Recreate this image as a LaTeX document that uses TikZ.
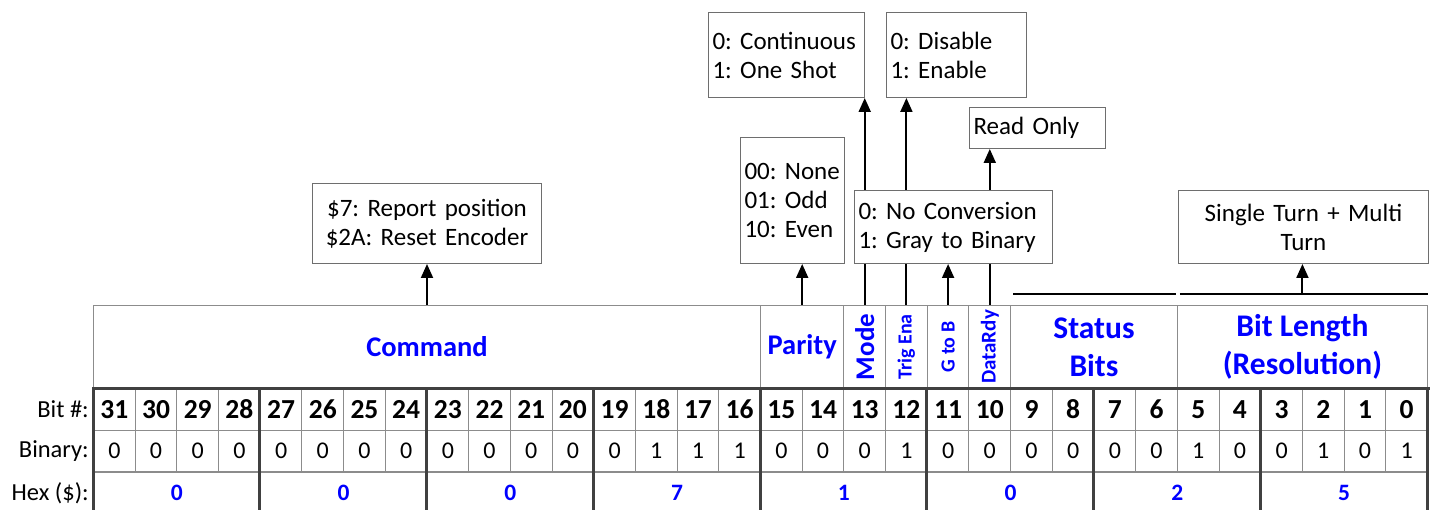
\documentclass[tikz,border=0pt]{standalone}
\usepackage{fontspec}
\setmainfont{Carlito}
\usetikzlibrary{arrows.meta}
\definecolor{gridthin}{HTML}{8C8C8C}
\definecolor{gridthick}{HTML}{404040}
\definecolor{notedraw}{HTML}{6E6E6E}
\definecolor{fieldblue}{RGB}{0,0,255}
\newcommand{\cw}{41.6875}
\pgfdeclarelayer{behind}
\pgfsetlayers{behind,main}
\tikzset{
  gridcell/.style={draw=gridthin, line width=1pt, inner sep=0pt,
    minimum width=41.6875pt, minimum height=41.5pt, anchor=north west},
  bitnum/.style={font=\fontsize{27.5}{30}\selectfont\bfseries},
  binval/.style={font=\fontsize{24}{28}\selectfont},
  hexcell/.style={gridcell, minimum width=166.75pt, minimum height=42pt,
    text=fieldblue, font=\fontsize{23.5}{26}\selectfont\bfseries},
  rowlabel/.style={anchor=east, inner sep=0pt, font=\fontsize{24.5}{28}\selectfont},
  field/.style={draw=gridthin, line width=1pt, inner sep=0pt,
    minimum height=83pt, anchor=north west},
  fieldname/.style={text=fieldblue, inner sep=0pt, align=center},
  note/.style={draw=notedraw, line width=1pt, fill=white, inner xsep=4pt,
    inner ysep=0pt, anchor=north west, align=left,
    font=\fontsize{25}{29}\selectfont},
  pointer/.style={line width=2pt, -{Triangle[length=14pt,width=12pt]}},
  bracket/.style={line width=2pt},
  thickrule/.style={draw=gridthick, line width=3pt, line cap=rect},
}
\begin{document}
\frenchspacing
\hyphenpenalty=10000
\begin{tikzpicture}[x=1pt,y=-1pt]
\useasboundingbox (0,0) rectangle (1434,510);

% field row
\node[field, minimum width=16*\cw] (cmd)  at (93,305) {};
\node[field, minimum width=2*\cw]  (par)  at ({93+16*\cw},305) {};
\node[field, minimum width=\cw]    (mode) at ({93+18*\cw},305) {};
\node[field, minimum width=\cw]    (trig) at ({93+19*\cw},305) {};
\node[field, minimum width=\cw]    (gtob) at ({93+20*\cw},305) {};
\node[field, minimum width=\cw]    (drdy) at ({93+21*\cw},305) {};
\node[field, minimum width=4*\cw]  (stat) at ({93+22*\cw},305) {};
\node[field, minimum width=6*\cw]  (blen) at ({93+26*\cw},305) {};

\node[fieldname, font=\fontsize{28.5}{32}\selectfont\bfseries] (cmdname) at (cmd.center) {Command};
\node[fieldname, font=\fontsize{28.5}{32}\selectfont\bfseries] (parname) at (par.center) {Parity};
\node[fieldname, rotate=90, font=\fontsize{27}{30}\selectfont\bfseries] (modename) at (mode.center) {Mode};
\node[fieldname, rotate=90, font=\fontsize{20}{24}\selectfont\bfseries] (trigname) at (trig.center) {Trig Ena};
\node[fieldname, rotate=90, font=\fontsize{20}{24}\selectfont\bfseries] (gtobname) at (gtob.center) {G to B};
\node[fieldname, rotate=90, font=\fontsize{21}{24}\selectfont\bfseries] (drdyname) at (drdy.center) {DataRdy};
\node[fieldname, font=\fontsize{31.5}{38}\selectfont\bfseries] (statname) at (stat.center) {Status\\Bits};
\node[fieldname, font=\fontsize{31.5}{38}\selectfont\bfseries] (blenname) at (blen.center) {Bit Length\\(Resolution)};

% bit-number and binary-value rows
\foreach \b/\v [count=\k from 0] in {31/0,30/0,29/0,28/0,27/0,26/0,25/0,24/0,
    23/0,22/0,21/0,20/0,19/0,18/1,17/1,16/1,15/0,14/0,13/0,12/1,
    11/0,10/0,9/0,8/0,7/0,6/0,5/1,4/0,3/0,2/1,1/0,0/1} {
  \node[gridcell, bitnum] (b\b) at ({93+\k*\cw},388) {\b};
  \node[gridcell, binval] (v\b) at ({93+\k*\cw},429.5) {\v};
}

% hex row, one cell per nibble
\foreach \n/\h [count=\k from 0] in {7/0,6/0,5/0,4/7,3/1,2/0,1/2,0/5} {
  \node[hexcell] (h\n) at ({93+4*\k*\cw},471.5) {\h};
}

% nibble separators
\draw[thickrule] (b31.north west) -- (b0.north east);
\foreach \j in {0,...,8} {
  \draw[thickrule] ({93+4*\j*\cw},388) -- ({93+4*\j*\cw},520);
}

% row captions
\node[rowlabel] (lbit) at (89,409) {Bit \#:};
\node[rowlabel] (lbin) at (89,451) {Binary:};
\node[rowlabel] (lhex) at (89,493) {Hex (\$):};

% brackets over the status and resolution fields
\coordinate (statL) at ({93+22*\cw+3},294);
\coordinate (statR) at ({93+26*\cw-1},294);
\coordinate (blenL) at ({93+26*\cw+3},294);
\coordinate (blenR) at (1428,294);
\draw[bracket] (statL) -- (statR);
\draw[bracket] (blenL) -- (blenR);
\coordinate (blenTop) at (blen.north |- blenL);

% description boxes
\node[note, align=center, text width=221pt, minimum height=80pt] (cmdnote) at (312,183)
  {\$7: Report position\\\$2A: Reset Encoder};
\node[note, text width=96pt, minimum height=126pt] (parnote) at (740,137)
  {00: None\\01: Odd\\10: Even};
\node[note, text width=148pt, minimum height=85pt] (modenote) at (708,12)
  {0: Continuous\\1: One Shot};
\node[note, text width=132pt, minimum height=85pt] (trignote) at (886,12)
  {0: Disable\\1: Enable};
\node[note, text width=128pt, minimum height=41pt] (ronote) at (969,107)
  {Read Only};
\node[note, text width=190pt, minimum height=73pt] (gtobnote) at (854,190)
  {0: No Conversion\\1: Gray to Binary};
\node[note, align=center, text width=242pt, minimum height=73pt] (resnote) at (1178,190)
  {Single Turn + Multi\\Turn};

% pointers, kept behind the boxes they pass under
\begin{pgfonlayer}{behind}
\draw[pointer] (cmd.north)  -- (cmd.north  |- cmdnote.south);
\draw[pointer] (par.north)  -- (par.north  |- parnote.south);
\draw[pointer] (mode.north) -- (mode.north |- modenote.south);
\draw[pointer] (trig.north) -- (trig.north |- trignote.south);
\draw[pointer] (gtob.north) -- (gtob.north |- gtobnote.south);
\draw[pointer] (drdy.north) -- (drdy.north |- ronote.south);
\draw[pointer] (blenTop)    -- (blenTop    |- resnote.south);
\end{pgfonlayer}
\end{tikzpicture}
\end{document}
